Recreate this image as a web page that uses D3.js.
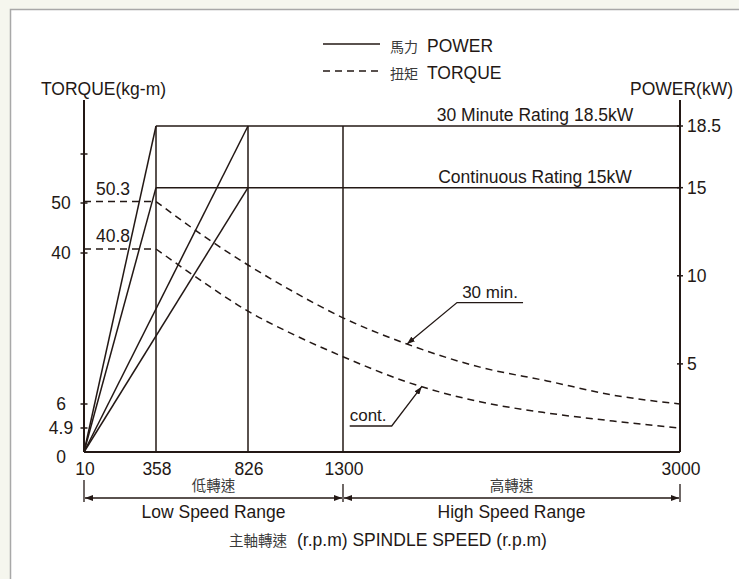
<!DOCTYPE html>
<html>
<head>
<meta charset="utf-8">
<script src="https://cdn.jsdelivr.net/npm/d3@7"></script>
<style>
  body { margin: 0; background: #f5f6ee; }
  svg { display: block; font-family: "Liberation Sans", Arial, sans-serif; }
  .zh { font-family: "Noto Sans CJK TC", "Noto Sans CJK SC", sans-serif; }
</style>
</head>
<body>
<svg id="chart" width="739" height="579"></svg>
<script>
const INK = "#231815";
const SPEED_TICKS = [10, 358, 826, 1300, 3000];
const BASE_SPEEDS = [358, 826];
const SHIFT_SPEED = 1300;
const POWER_RATINGS = [18.5, 15];
const RATING_LABELS = ["30 Minute Rating 18.5kW", "Continuous Rating 15kW"];
const POWER_TICKS = [18.5, 15, 10, 5];
const TORQUE_TICKS = [0, 4.9, 6, 40, 50, 60];
const TORQUE_TICK_LABELS = ["0", "4.9", "6", "40", "50", ""];
const TORQUE_MAX = [50.3, 40.8];
const CURVE_RPM = [358, 600, 826, 1060, 1300, 1623, 1991, 2329, 2662, 3000];
const TORQUE_30MIN = [50.3, 43.4, 37.3, 31.1, 25.4, 19.5, 14.3, 11.2, 8.0, 6.0];
const TORQUE_CONT = [40.8, 33.4, 26.9, 21.5, 16.65, 10.95, 6.5, 5.59, 5.22, 4.9];
const CURVE_LABELS = ["30 min.", "cont."];
const LEADER_RPM = [1623, 1697];
const LEADER_TORQUE = [19.5, 9.9];
const RANGE_BOUNDS = [10, 1300, 3000];
const RANGE_NAMES = ["Low Speed Range", "High Speed Range"];
const RANGE_ZH = ["低轉速", "高轉速"];

const svg = d3.select("#chart");

// panel
svg.append("rect")
  .attr("x", 10.5).attr("y", 9.5)
  .attr("width", 800).attr("height", 650)
  .attr("fill", "#fff").attr("stroke", "#a8a8a8").attr("stroke-width", 1.5);

// scales (the drawing is schematic, so the scales are piecewise)
const x = d3.scaleLinear().domain(SPEED_TICKS).range([84, 156, 248, 343, 680]);
const yT = d3.scaleLinear().domain(TORQUE_TICKS).range([452, 428, 404, 253, 203, 154]);
const yP = d3.scaleLinear().domain([0, 18.5]).range([452, 126]);
const TOP = 100;

const defs = svg.append("defs");
defs.append("marker")
  .attr("id", "arrow")
  .attr("viewBox", "0 0 8 6")
  .attr("refX", 8).attr("refY", 3)
  .attr("markerWidth", 8).attr("markerHeight", 6)
  .attr("markerUnits", "userSpaceOnUse")
  .attr("orient", "auto-start-reverse")
  .append("path").attr("d", "M0,0L8,3L0,6Z").attr("fill", INK);

const g = svg.append("g")
  .attr("stroke", INK).attr("fill", "none").attr("stroke-width", 1.5);

// axes lines
g.append("line").attr("x1", x(10)).attr("x2", x(10)).attr("y1", TOP).attr("y2", yT(0)).attr("stroke-width", 2);
g.append("line").attr("x1", x(3000)).attr("x2", x(3000)).attr("y1", TOP).attr("y2", yP(0)).attr("stroke-width", 2);
g.append("line").attr("x1", x(10)).attr("x2", x(3000)).attr("y1", yT(0)).attr("y2", yT(0)).attr("stroke-width", 2);

// ticks (small crosses)
g.selectAll(".tt").data(TORQUE_TICKS.slice(1)).enter().append("line")
  .attr("x1", x(10) - 3.5).attr("x2", x(10) + 3.5)
  .attr("y1", d => yT(d)).attr("y2", d => yT(d));
g.selectAll(".pt").data(POWER_TICKS).enter().append("line")
  .attr("x1", x(3000) - 3).attr("x2", x(3000) + 3)
  .attr("y1", d => yP(d)).attr("y2", d => yP(d));

// verticals at base speeds and gear shift
g.selectAll(".v").data(BASE_SPEEDS.concat([SHIFT_SPEED])).enter().append("line")
  .attr("x1", d => x(d)).attr("x2", d => x(d))
  .attr("y1", yP(POWER_RATINGS[0])).attr("y2", yP(0));

// power: ramps and ratings
POWER_RATINGS.forEach(p => {
  BASE_SPEEDS.forEach(s => {
    g.append("line")
      .attr("x1", x(10)).attr("y1", yP(0))
      .attr("x2", x(s)).attr("y2", yP(p));
  });
  g.append("line")
    .attr("x1", x(BASE_SPEEDS[0])).attr("x2", x(3000))
    .attr("y1", yP(p)).attr("y2", yP(p));
});

// torque: flat part and curve
const curve = d3.line()
  .x(d => x(d[0])).y(d => yT(d[1]))
  .curve(d3.curveMonotoneX);
[TORQUE_30MIN, TORQUE_CONT].forEach((series, i) => {
  g.append("line")
    .attr("x1", x(10)).attr("x2", x(BASE_SPEEDS[0]))
    .attr("y1", yT(TORQUE_MAX[i])).attr("y2", yT(TORQUE_MAX[i]))
    .attr("stroke-dasharray", "7,5");
  g.append("path")
    .attr("d", curve(CURVE_RPM.map((r, j) => [r, series[j]])))
    .attr("stroke-dasharray", "7,5");
});

// leaders
const leaderOffsets = [[50, -41.5, 66], [-30, 39.3, -42]];
LEADER_RPM.forEach((r, i) => {
  const tx = x(r), ty = yT(LEADER_TORQUE[i]);
  const [dx, dy, len] = leaderOffsets[i];
  const ex = tx + dx, ey = ty + dy;
  g.append("polyline")
    .attr("points", [[ex + len, ey], [ex, ey], [tx, ty]].map(p => p.join(",")).join(" "))
    .attr("stroke-width", 1.3)
    .attr("marker-end", "url(#arrow)");
  svg.append("text")
    .attr("x", i === 0 ? ex + len / 2 : ex + len)
    .attr("y", ey - 5)
    .attr("text-anchor", i === 0 ? "middle" : "start")
    .attr("font-size", 17).attr("fill", INK)
    .text(CURVE_LABELS[i]);
});

// speed range brackets
RANGE_BOUNDS.forEach((s, i) => {
  g.append("line")
    .attr("x1", x(s)).attr("x2", x(s))
    .attr("y1", i === 0 ? 480 : 484).attr("y2", 502)
    .attr("stroke-width", 1.3);
});
RANGE_NAMES.forEach((name, i) => {
  const a = RANGE_BOUNDS[i], b = RANGE_BOUNDS[i + 1];
  g.append("line")
    .attr("x1", x(a) + 1).attr("x2", x(b) - 1)
    .attr("y1", 498).attr("y2", 498)
    .attr("stroke-width", 1.3)
    .attr("marker-start", "url(#arrow)")
    .attr("marker-end", "url(#arrow)");
  svg.append("text")
    .attr("class", "zh")
    .attr("x", (x(a) + x(b)) / 2).attr("y", 491)
    .attr("text-anchor", "middle").attr("font-size", 14.5).attr("fill", "#3a3a3a")
    .text(RANGE_ZH[i]);
  svg.append("text")
    .attr("x", (x(a) + x(b)) / 2).attr("y", 518)
    .attr("text-anchor", "middle").attr("font-size", 17.5).attr("fill", INK)
    .text(name);
});

// labels
const txt = svg.append("g").attr("fill", INK).attr("font-size", 17.5);

txt.selectAll(".tl").data(TORQUE_TICKS).enter().append("text")
  .attr("x", 61).attr("y", d => yT(d) + (d === 0 ? 11 : 6))
  .attr("text-anchor", "middle")
  .text((d, i) => TORQUE_TICK_LABELS[i]);

txt.selectAll(".pl").data(POWER_TICKS).enter().append("text")
  .attr("x", x(3000) + 7).attr("y", d => yP(d) + 6)
  .text(d => d);

txt.selectAll(".xl").data(SPEED_TICKS).enter().append("text")
  .attr("x", d => x(d) + 1).attr("y", 475)
  .attr("text-anchor", "middle")
  .text(d => d);

txt.selectAll(".tm").data(TORQUE_MAX).enter().append("text")
  .attr("x", x(10) + 12).attr("y", d => yT(d) - 7)
  .text(d => d.toFixed(1));

txt.selectAll(".rl").data(POWER_RATINGS).enter().append("text")
  .attr("x", 535).attr("y", d => yP(d) - 5)
  .attr("text-anchor", "middle")
  .text((d, i) => RATING_LABELS[i]);

txt.append("text").attr("x", 41).attr("y", 95).text("TORQUE(kg-m)");
txt.append("text").attr("x", 733).attr("y", 95).attr("text-anchor", "end").text("POWER(kW)");

// x axis title
txt.append("text").attr("class", "zh").attr("x", 229).attr("y", 546)
  .attr("font-size", 14.5).attr("fill", "#3a3a3a").text("主軸轉速");
txt.append("text").attr("x", 297).attr("y", 546).text("(r.p.m) SPINDLE SPEED (r.p.m)");

// legend
const legend = [["馬力", "POWER", null], ["扭矩", "TORQUE", "7,5"]];
legend.forEach((l, i) => {
  const ly = 44 + i * 27;
  g.append("line")
    .attr("x1", 323).attr("x2", 380).attr("y1", ly).attr("y2", ly)
    .attr("stroke-dasharray", l[2]);
  txt.append("text").attr("class", "zh").attr("x", 390).attr("y", ly + 8)
    .attr("font-size", 14).attr("fill", "#3a3a3a").text(l[0]);
  txt.append("text").attr("x", 427).attr("y", ly + 8).text(l[1]);
});
</script>
</body>
</html>
